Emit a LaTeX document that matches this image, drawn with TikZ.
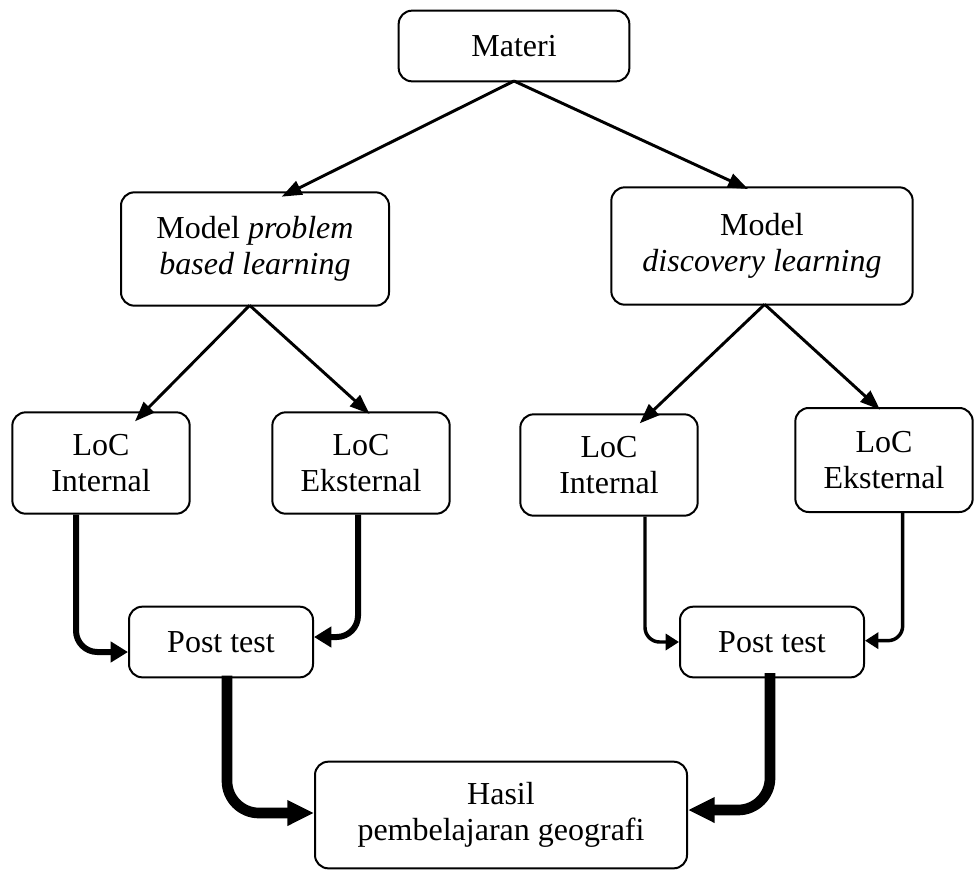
\documentclass[tikz,border=0pt]{standalone}
\usepackage{fontspec}
\setmainfont{Liberation Serif}
\usetikzlibrary{arrows.meta}

\tikzset{
  kotak/.style={draw, line width=1.5pt, rounded corners=10pt, align=center, inner sep=2pt,
    font=\fontsize{24}{27}\selectfont},
  panah/.style={line width=2.2pt, -{Triangle[length=15pt,width=11pt]}},
  siku/.style={line width=4.5pt, rounded corners=16pt, -{Triangle[length=13pt,width=15pt]}},
  sikutipis/.style={line width=2.6pt, rounded corners=11pt, -{Triangle[length=10pt,width=12pt]}},
  sikutebal/.style={line width=8pt, rounded corners=24pt, -{Triangle[length=20pt,width=18pt]}}
}

\begin{document}
\begin{tikzpicture}[x=0.75pt,y=0.75pt,yscale=-1,xscale=1]
%set diagram size
\useasboundingbox (0,0) rectangle (977,871);

%Shape: Materi
\node[kotak, minimum width=173pt, minimum height=53pt] (materi) at (514,46) {Materi};
%Shape: Model problem based learning
\node[kotak, minimum width=201pt, minimum height=85pt] (pbl) at (255,249) {Model \textit{problem}\\\textit{based learning}};
%Shape: Model discovery learning
\node[kotak, minimum width=226pt, minimum height=88pt] (dl) at (762,246) {Model\\\textit{discovery learning}};

%Shape: LoC boxes
\node[kotak, minimum width=133pt, minimum height=76pt] (intA) at (101,463) {LoC\\Internal};
\node[kotak, minimum width=133pt, minimum height=76pt] (eksA) at (361,463) {LoC\\Eksternal};
\node[kotak, minimum width=133pt, minimum height=76pt] (intB) at (609,465) {LoC\\Internal};
\node[kotak, minimum width=133pt, minimum height=78pt] (eksB) at (884,460) {LoC\\Eksternal};

%Shape: Post test
\node[kotak, minimum width=138pt, minimum height=53pt] (postA) at (221,642) {Post test};
\node[kotak, minimum width=138pt, minimum height=53pt] (postB) at (772,642) {Post test};

%Shape: Hasil
\node[kotak, minimum width=279pt, minimum height=80pt] (hasil) at (501,815) {Hasil\\pembelajaran geografi};

%Straight Lines: from Materi
\draw[panah] ([yshift=-1pt]materi.south) -- ([xshift=20pt,yshift=4pt]pbl.north);
\draw[panah] ([yshift=-1pt]materi.south) -- ([xshift=-10.5pt,yshift=2pt]dl.north);
%Straight Lines: from models
\draw[panah] ([xshift=-4pt,yshift=-1pt]pbl.south) -- ([xshift=25.5pt,yshift=7.5pt]intA.north);
\draw[panah] ([xshift=-4pt,yshift=-1pt]pbl.south) -- ([xshift=6.5pt,yshift=2pt]eksA.north);
\draw[panah] ([xshift=2pt,yshift=-1pt]dl.south) -- ([xshift=23pt,yshift=7.5pt]intB.north);
\draw[panah] ([xshift=2pt,yshift=-1pt]dl.south) -- ([xshift=-3pt,yshift=2pt]eksB.north);

%Elbow Lines: to Post test
\draw[siku] ([xshift=-18.75pt]intA.south) |- ([yshift=7.5pt]postA.west);
\draw[siku] ([xshift=-2.25pt]eksA.south) |- ([yshift=-3.75pt]postA.east);
\draw[sikutipis] ([xshift=27pt]intB.south) |- (postB.west);
\draw[sikutipis] ([xshift=14pt]eksB.south) |- ([yshift=-1pt]postB.east);

%Elbow Lines: to Hasil
\draw[sikutebal] ([xshift=4.5pt,yshift=-2pt]postA.south) |- ([yshift=-1.5pt]hasil.west);
\draw[sikutebal] ([xshift=-1.5pt,yshift=-4pt]postB.south) |- ([yshift=-3.75pt]hasil.east);

\end{tikzpicture}
\end{document}
